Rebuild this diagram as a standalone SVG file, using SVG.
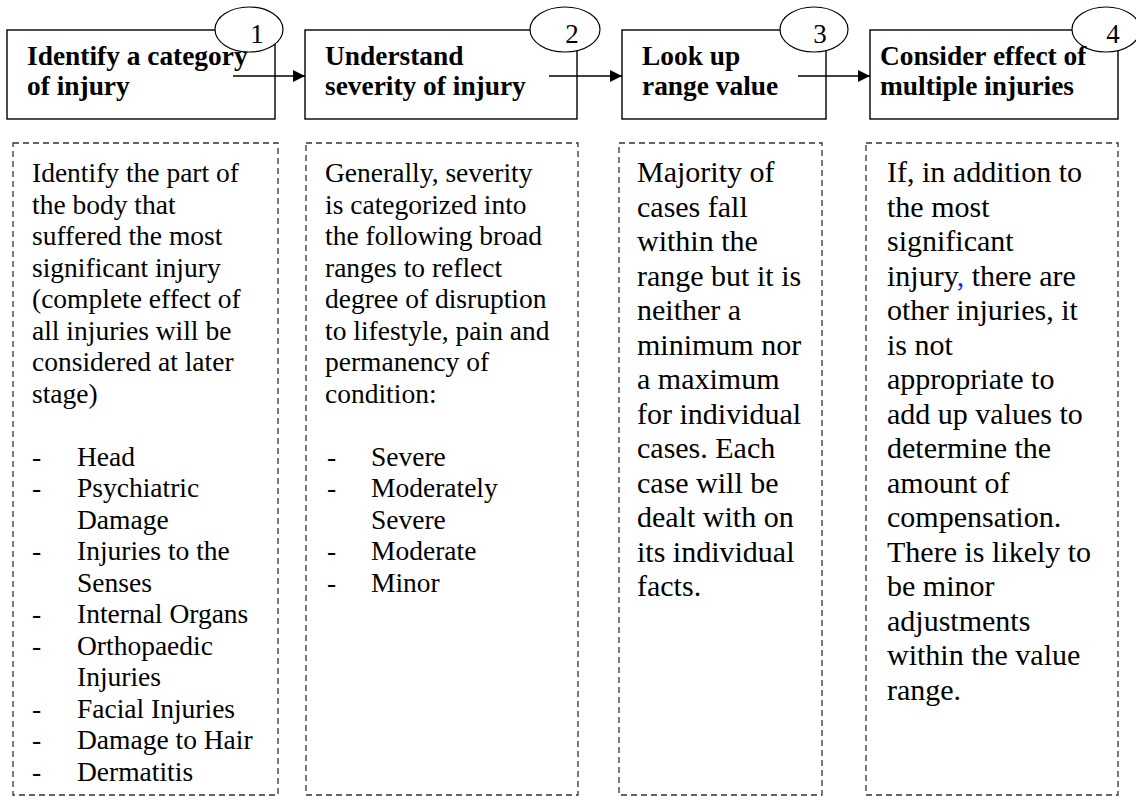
<svg xmlns="http://www.w3.org/2000/svg" width="1136" height="797" viewBox="0 0 1136 797">
<defs>
<style>
.box{fill:#fff;stroke:#000;stroke-width:1.4}
.num{fill:#fff;stroke:#000;stroke-width:1.2}
.dash{fill:none;stroke:#333;stroke-width:1.3;stroke-dasharray:6,4}
.title{font-family:"Liberation Serif","Times New Roman",serif;font-weight:bold;font-size:27.4px;fill:#000}
.n{font-family:"Liberation Serif","Times New Roman",serif;font-size:27px;fill:#000}
.b1{font-family:"Liberation Serif","Times New Roman",serif;font-size:27.5px;fill:#000}
.b2{font-family:"Liberation Serif","Times New Roman",serif;font-size:30px;fill:#000}
.conn{stroke:#000;stroke-width:1.4;fill:none}
</style>
<marker id="ah" viewBox="0 0 10 10" refX="10" refY="5" markerWidth="13" markerHeight="12" markerUnits="userSpaceOnUse" orient="auto">
<path d="M0,0 L10,5 L0,10 Z" fill="#000"/>
</marker>
</defs>
<rect width="1136" height="797" fill="#fff"/>

<g id="step1">
<rect class="box" x="7" y="30" width="268" height="89"/>
<ellipse class="num" cx="249" cy="29.5" rx="34" ry="22.5"/>
<text class="n" x="257" y="43" text-anchor="middle">1</text>
<text class="title" x="27" y="65">Identify a category</text>
<text class="title" x="27" y="95">of injury</text>
</g>
<g id="step2">
<rect class="box" x="305" y="30" width="272" height="89"/>
<ellipse class="num" cx="565" cy="29.5" rx="35" ry="22.5"/>
<text class="n" x="572" y="43" text-anchor="middle">2</text>
<text class="title" x="325" y="65">Understand</text>
<text class="title" x="325" y="95">severity of injury</text>
</g>
<g id="step3">
<rect class="box" x="622" y="30" width="204" height="89"/>
<ellipse class="num" cx="814" cy="29.5" rx="34" ry="22.5"/>
<text class="n" x="820" y="43" text-anchor="middle">3</text>
<text class="title" x="642" y="65">Look up</text>
<text class="title" x="642" y="95">range value</text>
</g>
<g id="step4">
<rect class="box" x="870" y="30" width="248" height="89"/>
<ellipse class="num" cx="1106" cy="29.5" rx="34" ry="22.5"/>
<text class="n" x="1113" y="43" text-anchor="middle">4</text>
<text class="title" x="880" y="65">Consider effect of</text>
<text class="title" x="880" y="95">multiple injuries</text>
</g>

<g id="connectors">
<line class="conn" x1="233" y1="76" x2="305" y2="76" marker-end="url(#ah)"/>
<line class="conn" x1="549" y1="76" x2="622" y2="76" marker-end="url(#ah)"/>
<line class="conn" x1="798" y1="76" x2="870" y2="76" marker-end="url(#ah)"/>
</g>

<g id="detail1">
<rect class="dash" x="13" y="143" width="265" height="652"/>
<text class="b1">
<tspan x="32" y="182">Identify the part of</tspan>
<tspan x="32" dy="31.5">the body that</tspan>
<tspan x="32" dy="31.5">suffered the most</tspan>
<tspan x="32" dy="31.5">significant injury</tspan>
<tspan x="32" dy="31.5">(complete effect of</tspan>
<tspan x="32" dy="31.5">all injuries will be</tspan>
<tspan x="32" dy="31.5">considered at later</tspan>
<tspan x="32" dy="31.5">stage)</tspan>
</text>
<text class="b1">
<tspan x="32" y="465.5">-</tspan><tspan x="77">Head</tspan>
<tspan x="32" dy="31.5">-</tspan><tspan x="77">Psychiatric</tspan>
<tspan x="77" dy="31.5">Damage</tspan>
<tspan x="32" dy="31.5">-</tspan><tspan x="77">Injuries to the</tspan>
<tspan x="77" dy="31.5">Senses</tspan>
<tspan x="32" dy="31.5">-</tspan><tspan x="77">Internal Organs</tspan>
<tspan x="32" dy="31.5">-</tspan><tspan x="77">Orthopaedic</tspan>
<tspan x="77" dy="31.5">Injuries</tspan>
<tspan x="32" dy="31.5">-</tspan><tspan x="77">Facial Injuries</tspan>
<tspan x="32" dy="31.5">-</tspan><tspan x="77">Damage to Hair</tspan>
<tspan x="32" dy="31.5">-</tspan><tspan x="77">Dermatitis</tspan>
</text>
</g>

<g id="detail2">
<rect class="dash" x="306" y="143" width="272" height="652"/>
<text class="b1">
<tspan x="325" y="182">Generally, severity</tspan>
<tspan x="325" dy="31.5">is categorized into</tspan>
<tspan x="325" dy="31.5">the following broad</tspan>
<tspan x="325" dy="31.5">ranges to reflect</tspan>
<tspan x="325" dy="31.5">degree of disruption</tspan>
<tspan x="325" dy="31.5">to lifestyle, pain and</tspan>
<tspan x="325" dy="31.5">permanency of</tspan>
<tspan x="325" dy="31.5">condition:</tspan>
</text>
<text class="b1">
<tspan x="327" y="465.5">-</tspan><tspan x="371">Severe</tspan>
<tspan x="327" dy="31.5">-</tspan><tspan x="371">Moderately</tspan>
<tspan x="371" dy="31.5">Severe</tspan>
<tspan x="327" dy="31.5">-</tspan><tspan x="371">Moderate</tspan>
<tspan x="327" dy="31.5">-</tspan><tspan x="371">Minor</tspan>
</text>
</g>

<g id="detail3">
<rect class="dash" x="619" y="143" width="203" height="652"/>
<text class="b2">
<tspan x="637" y="182">Majority of</tspan>
<tspan x="637" dy="34.5">cases fall</tspan>
<tspan x="637" dy="34.5">within the</tspan>
<tspan x="637" dy="34.5">range but it is</tspan>
<tspan x="637" dy="34.5">neither a</tspan>
<tspan x="637" dy="34.5">minimum nor</tspan>
<tspan x="637" dy="34.5">a maximum</tspan>
<tspan x="637" dy="34.5">for individual</tspan>
<tspan x="637" dy="34.5">cases. Each</tspan>
<tspan x="637" dy="34.5">case will be</tspan>
<tspan x="637" dy="34.5">dealt with on</tspan>
<tspan x="637" dy="34.5">its individual</tspan>
<tspan x="637" dy="34.5">facts.</tspan>
</text>
</g>

<g id="detail4">
<rect class="dash" x="866" y="143" width="252" height="652"/>
<text class="b2">
<tspan x="887" y="182">If, in addition to</tspan>
<tspan x="887" dy="34.5">the most</tspan>
<tspan x="887" dy="34.5">significant</tspan>
<tspan x="887" dy="34.5">injury<tspan fill="#1f1fff">,</tspan> there are</tspan>
<tspan x="887" dy="34.5">other injuries, it</tspan>
<tspan x="887" dy="34.5">is not</tspan>
<tspan x="887" dy="34.5">appropriate to</tspan>
<tspan x="887" dy="34.5">add up values to</tspan>
<tspan x="887" dy="34.5">determine the</tspan>
<tspan x="887" dy="34.5">amount of</tspan>
<tspan x="887" dy="34.5">compensation.</tspan>
<tspan x="887" dy="34.5">There is likely to</tspan>
<tspan x="887" dy="34.5">be minor</tspan>
<tspan x="887" dy="34.5">adjustments</tspan>
<tspan x="887" dy="34.5">within the value</tspan>
<tspan x="887" dy="34.5">range.</tspan>
</text>
</g>
</svg>
